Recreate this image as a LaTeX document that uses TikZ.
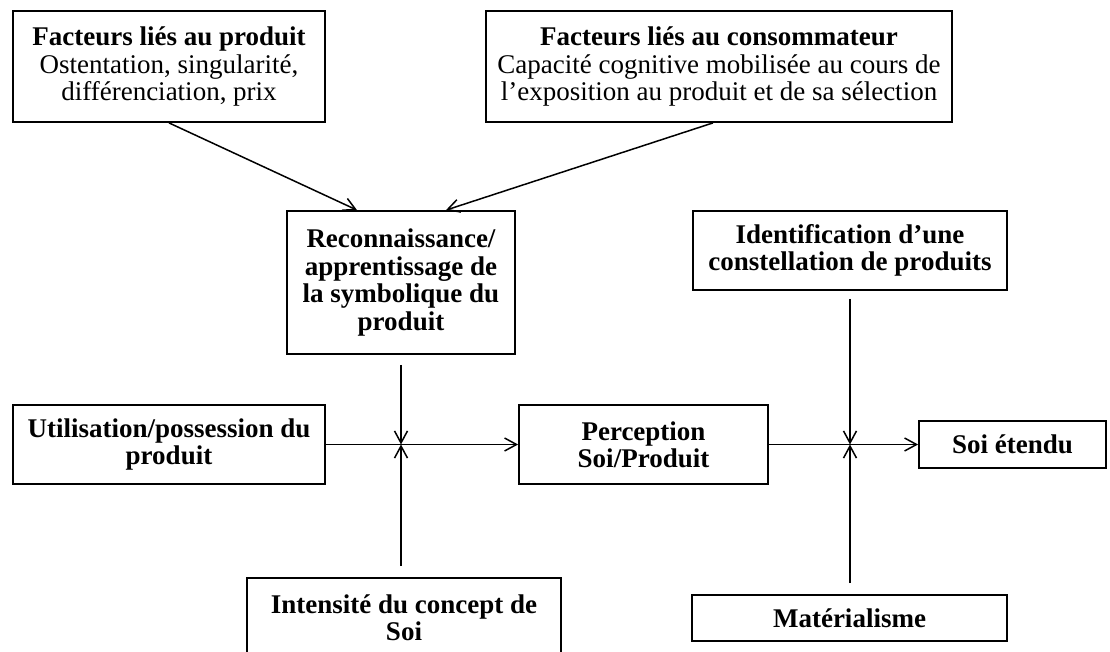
\documentclass[tikz,border=0pt]{standalone}
\usepackage{fontspec}
\setmainfont{Liberation Serif}
\usetikzlibrary{arrows.meta}

\begin{document}
\begin{tikzpicture}[x=0.5pt,y=-0.5pt,
		bloc/.style={draw, line width=0.9pt, align=center, inner sep=2pt, font=\fontsize{13.5}{13.7}\selectfont\bfseries},
		fleche/.style={line width=0.75pt, -{Straight Barb[length=6pt,width=6.5pt]}}]
		\useasboundingbox (0,0) rectangle (1110,652);
		\node[bloc, minimum width=156pt, minimum height=55.5pt](prod) at (169,66.5) {Facteurs liés au produit\\ \mdseries Ostentation, singularité,\\ \mdseries différenciation, prix};
		\node[bloc, minimum width=233pt, minimum height=55.5pt](conso) at (719,66.5) {Facteurs liés au consommateur\\ \mdseries Capacité cognitive mobilisée au cours de\\ \mdseries l’exposition au produit et de sa sélection};
		\node[bloc, minimum width=114pt, minimum height=71.5pt](recon) at (401,282.5) {Reconnaissance/\\ apprentissage de\\ la symbolique du\\ produit};
		\node[bloc, minimum width=157pt, minimum height=39.5pt](ident) at (850,250.5) {Identification d’une\\ constellation de produits};
		\node[bloc, minimum width=156pt, minimum height=39.5pt](util) at (169,444.5) {Utilisation/possession du\\ produit};
		\node[bloc, minimum width=124.5pt, minimum height=39.5pt](percep) at (643.5,444.5) {Perception\\ Soi/Produit};
		\node[bloc, minimum width=93.5pt, minimum height=23.5pt](soi) at (1012.5,444.5) {Soi étendu};
		\node[bloc, minimum width=157pt, minimum height=39.5pt](intens) at (404,617.5) {Intensité du concept de\\ Soi};
		\node[bloc, minimum width=157.5pt, minimum height=23pt](mater) at (849.5,618) {Matérialisme};
		\coordinate (j1) at (recon.south |- util.east);
		\coordinate (j2) at (ident.south |- percep.east);
		\draw[fleche] (prod.south) -- ([xshift=-22pt]recon.north);
		\draw[fleche] ([xshift=-3pt]conso.south) -- ([xshift=22.5pt]recon.north);
		\draw[fleche] (util) -- (percep);
		\draw[fleche, shorten <=5pt] (recon) -- (j1);
		\draw[fleche, shorten <=5.5pt] (j1 |- intens.north) -- (j1);
		\draw[fleche] (percep) -- (soi);
		\draw[fleche, shorten <=4pt] (ident) -- (j2);
		\draw[fleche, shorten <=5.5pt] (j2 |- mater.north) -- (j2);
	\end{tikzpicture}
\end{document}
